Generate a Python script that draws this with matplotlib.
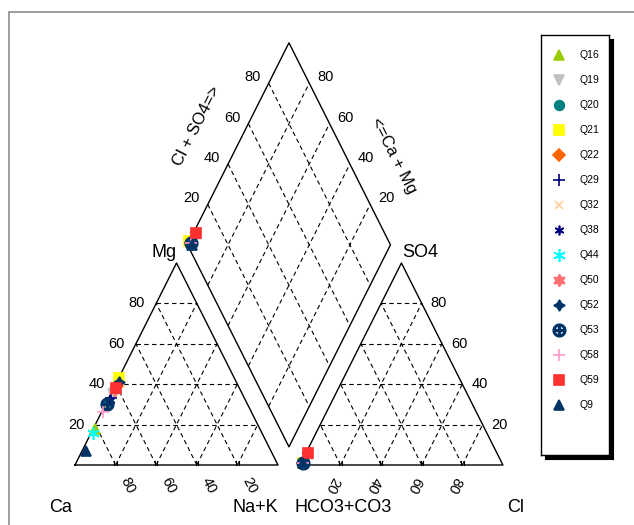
import numpy as np
import matplotlib.pyplot as plt
from matplotlib.patches import Rectangle

# sample ids and their ion percentages (meq %)
samples = ['Q16', 'Q19', 'Q20', 'Q21', 'Q22', 'Q29', 'Q32', 'Q38',
           'Q44', 'Q50', 'Q52', 'Q53', 'Q58', 'Q59', 'Q9']
mg = [18, 35, 31, 43, 39, 33, 28, 32, 16, 37, 41, 30, 26, 38, 7]
nak = [1, 1, 1, 0, 1, 1, 1, 1, 1, 1, 1, 1, 1, 1, 2]
so4 = [1, 1, 1, 1, 1, 1, 1, 1, 1, 5, 1, 1, 1, 6, 1]
cl = [1, 1, 1, 1, 1, 1, 1, 1, 1, 1, 1, 1, 1, 1, 1]

colors = ['#99cc00', '#c0c0c0', '#008080', '#ffff00', '#ff6600', '#000080',
          '#ffcc99', '#000080', '#00ffff', '#ff7070', '#003366', '#003366',
          '#ff99cc', '#ff3030', '#003366']
markers = ['^', 'v', 'o', 's', 'D', '+', 'x', (6, 2, 0), (6, 2, 0),
           (6, 1, 0), (4, 1, 0), '$\\oplus$', '+', 's', '^']
sizes = [7, 7, 7, 7, 6, 8, 6, 7, 9, 9, 8, 9, 9, 7, 7]

ticks = [20, 40, 60, 80]
GAP = 0.108
B = (1 + GAP / 2, 0.09)          # bottom vertex of the diamond
L = (B[0] - 0.5, B[1] + 1)       # left vertex of the diamond


def cat_xy(m, n):
    return n + m / 2, m


def an_xy(s, c):
    return 1 + GAP + c + s / 2, s


def dia_xy(n, s):
    return L[0] + 0.5 * s + 0.5 * n, L[1] + s - n


plt.rcParams['font.family'] = 'Liberation Sans'
fig = plt.figure(figsize=(6.34, 5.25), dpi=100)
ax = fig.add_axes([0, 0, 1, 1])
ax.set_xlim(-75 / 203, (634 - 75) / 203)
ax.set_ylim((465 - 525) / 202, 465 / 202)
ax.axis('off')

# grey outer frame
fig.patches.append(Rectangle((9 / 634, -0.1), 1.2, (525 - 12) / 525 + 0.1,
                             transform=fig.transFigure, fill=False,
                             edgecolor='#8c8c8c', lw=1.2))

solid = dict(color='black', lw=1.0)
dash = dict(color='black', lw=0.8, ls=(0, (4, 3)))

# outlines
ax.plot([0, 1, 0.5, 0], [0, 0, 1, 0], **solid)
ox = 1 + GAP
ax.plot([ox, ox + 1, ox + 0.5, ox], [0, 0, 1, 0], **solid)
dx = [L[0], L[0] + 0.5, L[0] + 1, B[0], L[0]]
dy = [L[1], L[1] + 1, L[1], B[1], L[1]]
ax.plot(dx, dy, **solid)

# dashed grids
for t in ticks:
    k = t / 100
    for o in (0, ox):
        ax.plot([o + k / 2, o + 1 - k / 2], [k, k], **dash)
        ax.plot([o + k, o + k + (1 - k) / 2], [0, 1 - k], **dash)
        ax.plot([o + 1 - k, o + (1 - k) / 2], [0, 1 - k], **dash)
        # small ticks on the base
        ax.plot([o + k - 0.006, o + k - 0.006], [0, 0.018], color='black', lw=0.8)
        ax.plot([o + k + 0.006, o + k + 0.006], [0, 0.018], color='black', lw=0.8)
    x0, y0 = dia_xy(0, k)
    ax.plot([x0, x0 + 0.5], [y0, y0 - 1], **dash)
    x0, y0 = dia_xy(k, 0)
    ax.plot([x0, x0 + 0.5], [y0, y0 + 1], **dash)

# tick labels
fs = 10.5
for t in ticks:
    k = t / 100
    # Mg on left edge of cation triangle
    ax.text(k / 2 - 0.095, k, str(t), ha='center', va='center', fontsize=fs)
    # SO4 on right edge of anion triangle
    ax.text(ox + 1 - k / 2 + 0.085, k, str(t), ha='center', va='center', fontsize=fs)
    # Ca on base of cation triangle
    ax.text(1 - k + 0.06, -0.1, str(t), ha='center', va='center', fontsize=fs,
            rotation=-63)
    # Cl on base of anion triangle
    ax.text(ox + k - 0.04, -0.1, str(t), ha='center', va='center', fontsize=fs,
            rotation=-117)
    # Cl+SO4 on upper-left edge of diamond
    x0, y0 = dia_xy(0, k)
    ax.text(x0 - 0.08, y0 + 0.03, str(t), ha='center', va='center', fontsize=fs)
    # Ca+Mg on upper-right edge of diamond
    x0, y0 = dia_xy(1 - k, 1)
    ax.text(x0 + 0.08, y0 + 0.03, str(t), ha='center', va='center', fontsize=fs)

# axis labels
lf = 13
ax.text(-0.07, -0.21, 'Ca', ha='center', va='center', fontsize=lf)
ax.text(0.89, -0.21, 'Na+K', ha='center', va='center', fontsize=lf)
ax.text(1.32, -0.21, 'HCO3+CO3', ha='center', va='center', fontsize=lf)
ax.text(2.17, -0.21, 'Cl', ha='center', va='center', fontsize=lf)
ax.text(0.44, 1.05, 'Mg', ha='center', va='center', fontsize=lf)
ax.text(1.70, 1.05, 'SO4', ha='center', va='center', fontsize=lf)
ax.text(0.6, 1.68, 'Cl + SO4=>', ha='center', va='center', fontsize=12, rotation=63)
ax.text(1.57, 1.53, '<=Ca + Mg', ha='center', va='center', fontsize=12, rotation=-63)

# data points
for i in range(len(samples)):
    m, n, s, c = mg[i] / 100, nak[i] / 100, so4[i] / 100, cl[i] / 100
    pts = [cat_xy(m, n), an_xy(s, c), dia_xy(n, s + c)]
    for px, py in pts:
        ax.plot(px, py, marker=markers[i], color=colors[i], ms=sizes[i],
                mew=1.2, ls='none', clip_on=False)

# legend box with shadow
sax = fig.add_axes([(541 + 4) / 634, (525 - 459) / 525, 68 / 634, 420 / 525])
sax.set_facecolor('black')
sax.set_xticks([])
sax.set_yticks([])
lax = fig.add_axes([541 / 634, (525 - 455) / 525, 68 / 634, 420 / 525])
lax.set_xlim(0, 68)
lax.set_ylim(420, 0)
lax.set_xticks([])
lax.set_yticks([])
lax.set_facecolor('white')
for sp in lax.spines.values():
    sp.set_linewidth(1.0)
for i, name in enumerate(samples):
    y = 20 + 25 * i
    lax.plot(18, y, marker=markers[i], color=colors[i], ms=sizes[i], mew=1.2)
    lax.text(38, y, name, ha='left', va='center', fontsize=7.5)

fig.savefig('out.png', dpi=100)
